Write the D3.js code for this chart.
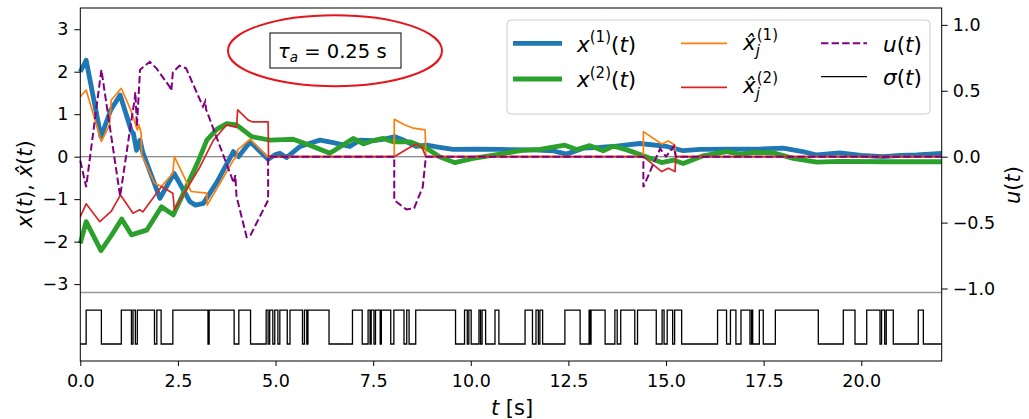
<!DOCTYPE html>
<html>
<head>
<meta charset="utf-8">
<script src="https://cdn.jsdelivr.net/npm/d3@7"></script>
<style>
  body { margin: 0; background: #fff; }
  svg { display: block; font-family: "DejaVu Sans", sans-serif; }
</style>
</head>
<body>
<div id="chart"></div>
<script>
// --- data: [t, value] ---
const x1Pts = [[0,2.0],[0.15,2.27],[0.53,0.47],[0.78,1.1],[1.02,1.45],[1.31,0.6],[1.36,0.55],[1.44,0.15],[1.53,0.39],[1.6,0.1],
  [2.04,-0.98],[2.4,-0.39],[2.81,-1.06],[2.95,-1.14],[3.15,-1.1],[3.5,-0.6],[3.92,0.12],[4.05,0.0],[4.35,0.35],[4.81,-0.06],
  [5.0,0.05],[5.11,0.08],[5.28,-0.02],[5.63,0.24],[5.9,0.32],[6.14,0.39],[6.48,0.33],[6.9,0.24],[7.16,0.39],[7.5,0.38],
  [7.76,0.41],[8.06,0.47],[8.3,0.38],[8.6,0.24],[8.87,0.27],[9.2,0.22],[9.55,0.17],[10.2,0.18],[10.75,0.17],[11.6,0.16],
  [12.1,0.14],[12.45,0.06],[12.88,0.2],[13.3,0.22],[13.73,0.25],[14.33,0.31],[15.02,0.24],[15.44,0.14],[15.87,0.17],
  [16.72,0.18],[17.4,0.18],[18.0,0.2],[18.5,0.12],[18.86,0.04],[19.45,0.09],[20.0,0.03],[20.56,0.0],[21.0,0.03],[21.42,0.04],[22.06,0.08]];

const x2Pts = [[0,-2.04],[0.15,-1.53],[0.53,-2.21],[0.8,-1.85],[1.06,-1.47],[1.31,-1.84],[1.45,-1.8],[1.7,-1.73],[2.08,-1.18],
  [2.38,-1.37],[2.72,-0.71],[3.0,-0.15],[3.24,0.39],[3.5,0.65],[3.75,0.78],[4.0,0.75],[4.39,0.47],[4.86,0.39],[5.2,0.4],
  [5.45,0.41],[5.88,0.27],[6.39,0.08],[6.99,0.43],[7.25,0.3],[7.5,0.38],[7.76,0.43],[8.01,0.35],[8.44,0.35],[8.87,0.2],
  [9.2,0.0],[9.59,-0.14],[10.06,-0.04],[10.75,0.06],[11.26,0.14],[11.77,0.17],[12.41,0.27],[12.71,0.17],[13.05,0.26],
  [13.39,0.14],[13.65,0.25],[14.0,0.16],[14.42,0.02],[14.89,-0.14],[15.19,-0.08],[15.44,-0.16],[15.95,0.02],[16.55,0.12],
  [16.89,0.06],[17.3,0.1],[17.75,0.09],[18.26,-0.04],[18.86,-0.13],[19.45,-0.11],[20.56,-0.12],[22.06,-0.12]];

const xh1Pts = [[0,1.41],[0.15,1.57],[0.54,0.36],[0.75,0.75],[0.79,1.33],[1.05,1.61],[1.31,1.06],[1.46,0.63],[1.5,0.75],
  [1.56,0.55],[1.57,0.05],[1.9,-0.62],[2.08,-0.7],[2.37,-0.39],[2.41,0.0],[2.84,-0.82],[3.24,-0.86],[3.25,-1.14],
  [3.58,-0.62],[3.92,-0.08],[4.0,0.0],[4.03,0.16],[4.35,0.41],[4.79,0.0],[8.04,0.0],[8.04,0.88],[8.3,0.75],[8.53,0.67],
  [8.83,0.63],[8.85,0.0],[14.42,0.0],[14.42,0.59],[14.89,0.3],[15.06,0.37],[15.23,0.27],[15.25,0.0],[22.06,0.0]];

const xh2Pts = [[0,-1.41],[0.15,-1.11],[0.5,-1.53],[0.79,-1.29],[1.03,-0.9],[1.35,-1.33],[1.52,-1.25],[1.6,-1.3],
  [2.08,-0.7],[2.37,-0.86],[2.41,-1.25],[3.07,-0.23],[3.41,0.39],[3.75,0.75],[4.0,0.69],[4.03,1.1],[4.3,0.86],
  [4.4,0.82],[4.81,0.82],[4.82,0.0],[8.04,0.0],[8.4,0.2],[8.6,0.3],[8.75,0.22],[8.85,0.0],[14.42,0.0],[14.89,-0.35],
  [15.06,-0.27],[15.23,-0.35],[15.25,0.0],[22.06,0.0]];

const uPts = [[0,-0.03],[0.15,-0.23],[0.54,0.66],[1.02,-0.3],[1.31,0.28],[1.39,0.43],[1.41,0.49],[1.45,0.23],[1.53,0.66],
  [1.78,0.72],[1.95,0.67],[2.29,0.53],[2.33,0.5],[2.37,0.64],[2.54,0.69],[2.71,0.67],[3.14,0.38],[3.2,0.42],[3.22,0.36],
  [3.93,-0.2],[3.97,-0.14],[4.0,-0.3],[4.26,-0.61],[4.35,-0.6],[4.81,-0.33],[4.81,0.0],[8.04,0.0],[8.04,-0.33],
  [8.35,-0.4],[8.55,-0.39],[8.77,-0.23],[8.85,0.0],[14.42,0.0],[14.42,-0.23],[14.68,-0.05],[14.85,0.06],[15.0,0.0],
  [15.2,0.08],[15.25,0.0],[22.06,0.0]];

// switching instants of sigma (starts at 0, toggles at each time)
const sigmaSwitch = [0.15,0.54,1.05,1.31,1.35,1.41,1.46,1.90,1.96,2.07,2.37,3.27,3.30,3.94,4.06,4.36,4.76,4.81,4.85,4.93,
  4.98,5.06,5.11,5.30,5.37,5.69,5.74,5.80,5.83,6.37,6.97,7.22,7.37,7.42,7.45,7.52,7.56,7.68,7.71,7.95,8.03,8.29,8.36,
  8.42,8.59,9.61,9.84,9.91,9.95,10.01,10.21,10.25,10.29,10.38,10.62,10.72,11.39,11.58,11.67,11.73,11.77,11.84,12.41,
  12.80,13.03,13.05,13.08,13.44,13.69,13.75,13.84,14.20,14.27,14.75,14.90,14.95,15.03,15.17,15.22,15.40,16.32,16.55,
  16.65,16.79,16.92,17.15,17.19,17.22,17.39,17.49,17.80,18.90,19.54,19.84,20.14,20.48,20.52,20.60,20.64,20.82,21.46,21.59];

const tEnd = 22.06;
const leftTicks = [-3, -2, -1, 0, 1, 2, 3];
const rightTicks = [-1, -0.5, 0, 0.5, 1];
const tTicks = [0, 2.5, 5, 7.5, 10, 12.5, 15, 17.5, 20];

const width = 1029, height = 419;
const svg = d3.select("#chart").append("svg")
  .attr("width", width)
  .attr("height", height);

const plotLeft = 80.3, plotRight = 941.7, plotTop = 8, plotBottom = 361;

const x = d3.scaleLinear([0, tEnd], [plotLeft, plotRight]);
const yL = d3.scaleLinear([-4.81, 3.5], [plotBottom, plotTop]);
const yR = d3.scaleLinear([-1.55, 1.128], [plotBottom, plotTop]);
// sigma lives in the strip under the -3.2 separator
const yS = d3.scaleLinear([0, 1], [yL(-4.41), yL(-3.61)]);

const lineL = d3.line().x(d => x(d[0])).y(d => yL(d[1]));
const lineR = d3.line().x(d => x(d[0])).y(d => yR(d[1]));

// zero line and separator
svg.append("line")
  .attr("x1", plotLeft).attr("x2", plotRight)
  .attr("y1", yL(0)).attr("y2", yL(0))
  .attr("stroke", "#000").attr("stroke-opacity", 0.6).attr("stroke-width", 1.1);
svg.append("line")
  .attr("x1", plotLeft).attr("x2", plotRight)
  .attr("y1", yL(-3.2)).attr("y2", yL(-3.2))
  .attr("stroke", "#999").attr("stroke-width", 1.5);

// curves
const series = [
  { pts: x1Pts, color: "#1f77b4", w: 4.8 },
  { pts: x2Pts, color: "#2ca02c", w: 4.8 },
  { pts: xh1Pts, color: "#ff7f0e", w: 1.7 },
  { pts: xh2Pts, color: "#d62728", w: 1.7 }
];
series.forEach(s => {
  svg.append("path")
    .attr("d", lineL(s.pts))
    .attr("fill", "none")
    .attr("stroke", s.color)
    .attr("stroke-width", s.w)
    .attr("stroke-linejoin", "round");
});

svg.append("path")
  .attr("d", lineR(uPts))
  .attr("fill", "none")
  .attr("stroke", "purple")
  .attr("stroke-width", 2)
  .attr("stroke-dasharray", "7.4,3.2");

// sigma step signal
const sigmaPts = [[0, 0]];
let state = 0;
sigmaSwitch.forEach(t => { state = 1 - state; sigmaPts.push([t, state]); });
sigmaPts.push([tEnd, state]);
svg.append("path")
  .attr("d", d3.line().curve(d3.curveStepAfter).x(d => x(d[0])).y(d => yS(d[1]))(sigmaPts))
  .attr("fill", "none")
  .attr("stroke", "#000")
  .attr("stroke-width", 1.3);

// frame
svg.append("rect")
  .attr("x", plotLeft).attr("y", plotTop)
  .attr("width", plotRight - plotLeft).attr("height", plotBottom - plotTop)
  .attr("fill", "none").attr("stroke", "#000").attr("stroke-width", 1);

// axes
function styleAxis(g) {
  g.select(".domain").remove();
  g.attr("font-family", "DejaVu Sans").attr("font-size", 17.5);
  g.selectAll("text").attr("fill", "#000");
  g.selectAll("line").attr("stroke", "#000");
}
svg.append("g")
  .attr("transform", `translate(${plotLeft},0)`)
  .call(d3.axisLeft(yL).tickValues(leftTicks).tickSize(6).tickPadding(6).tickFormat(d3.format("d")))
  .call(styleAxis);
svg.append("g")
  .attr("transform", `translate(${plotRight},0)`)
  .call(d3.axisRight(yR).tickValues(rightTicks).tickSize(6).tickPadding(5).tickFormat(d3.format(".1f")))
  .call(styleAxis);
svg.append("g")
  .attr("transform", `translate(0,${plotBottom})`)
  .call(d3.axisBottom(x).tickValues(tTicks).tickSize(5).tickPadding(9).tickFormat(d3.format(".1f")))
  .call(styleAxis);

// axis labels
const xl = svg.append("text")
  .attr("x", 512).attr("y", 415)
  .attr("text-anchor", "middle").attr("font-size", 21);
xl.append("tspan").attr("font-style", "italic").text("t");
xl.append("tspan").text(" [s]");

const yl = svg.append("text")
  .attr("transform", "translate(32,184) rotate(-90)")
  .attr("text-anchor", "middle").attr("font-size", 21);
yl.append("tspan").attr("font-style", "italic").text("x");
yl.append("tspan").text("(");
yl.append("tspan").attr("font-style", "italic").text("t");
yl.append("tspan").text("), ");
yl.append("tspan").attr("font-style", "italic").text("x\u0302");
yl.append("tspan").text("(");
yl.append("tspan").attr("font-style", "italic").text("t");
yl.append("tspan").text(")");

const yr = svg.append("text")
  .attr("transform", "translate(1020,185) rotate(-90)")
  .attr("text-anchor", "middle").attr("font-size", 21);
yr.append("tspan").attr("font-style", "italic").text("u");
yr.append("tspan").text("(");
yr.append("tspan").attr("font-style", "italic").text("t");
yr.append("tspan").text(")");

// tau_a annotation with red ellipse
svg.append("ellipse")
  .attr("cx", 335).attr("cy", 50.7).attr("rx", 107).attr("ry", 35.5)
  .attr("fill", "none").attr("stroke", "#e8141b").attr("stroke-width", 2);
svg.append("rect")
  .attr("x", 270).attr("y", 33).attr("width", 131).attr("height", 35)
  .attr("fill", "#fff").attr("stroke", "#000").attr("stroke-width", 1);
const ann = svg.append("text")
  .attr("x", 278).attr("y", 57.5).attr("font-size", 19.5);
ann.append("tspan").attr("font-style", "italic").text("τ");
ann.append("tspan").attr("font-style", "italic").attr("font-size", 13.5).attr("dy", 4).text("a");
ann.append("tspan").attr("dy", -4).text(" = 0.25 s");

// legend
const leg = svg.append("g");
leg.append("rect")
  .attr("x", 507).attr("y", 20).attr("width", 423).attr("height", 94).attr("rx", 4)
  .attr("fill", "#fff").attr("fill-opacity", 0.8)
  .attr("stroke", "#ccc").attr("stroke-width", 1);

function handle(x0, x1, y, color, w, dash) {
  leg.append("line")
    .attr("x1", x0).attr("x2", x1).attr("y1", y).attr("y2", y)
    .attr("stroke", color).attr("stroke-width", w)
    .attr("stroke-dasharray", dash || null);
}
function stateLabel(x0, base, idx) {
  const t = leg.append("text").attr("x", x0).attr("y", base).attr("font-size", 21.5);
  t.append("tspan").attr("font-style", "italic").text("x");
  t.append("tspan").attr("font-size", 15).attr("dy", -9.5).text(`(${idx})`);
  t.append("tspan").attr("dy", 9.5).text("(");
  t.append("tspan").attr("font-style", "italic").text("t");
  t.append("tspan").text(")");
}
function estLabel(x0, base, idx) {
  const t = leg.append("text").attr("x", x0).attr("y", base).attr("font-size", 21.5)
    .attr("font-style", "italic").text("x\u0302");
  const w = t.node().getComputedTextLength();
  leg.append("text").attr("x", x0 + w + 1).attr("y", base - 10.5).attr("font-size", 15).text(`(${idx})`);
  leg.append("text").attr("x", x0 + w).attr("y", base + 6).attr("font-size", 15)
    .attr("font-style", "italic").text("j");
}
function fnLabel(x0, base, sym) {
  const t = leg.append("text").attr("x", x0).attr("y", base).attr("font-size", 21.5);
  t.append("tspan").attr("font-style", "italic").text(sym);
  t.append("tspan").text("(");
  t.append("tspan").attr("font-style", "italic").text("t");
  t.append("tspan").text(")");
}

handle(513, 562, 43.3, "#1f77b4", 4.8);
stateLabel(577, 51.5, 1);
handle(513, 562, 79, "#2ca02c", 4.8);
stateLabel(577, 87, 2);

handle(681, 727, 43.3, "#ff7f0e", 1.7);
estLabel(743, 50, 1);
handle(681, 727, 87.3, "#d62728", 1.7);
estLabel(743, 93, 2);

handle(821, 867, 43.3, "purple", 2, "7.4,3.2");
fnLabel(883, 51.5, "u");
handle(821, 867, 76.7, "#000", 1.3);
fnLabel(883, 84.5, "σ");
</script>
</body>
</html>
